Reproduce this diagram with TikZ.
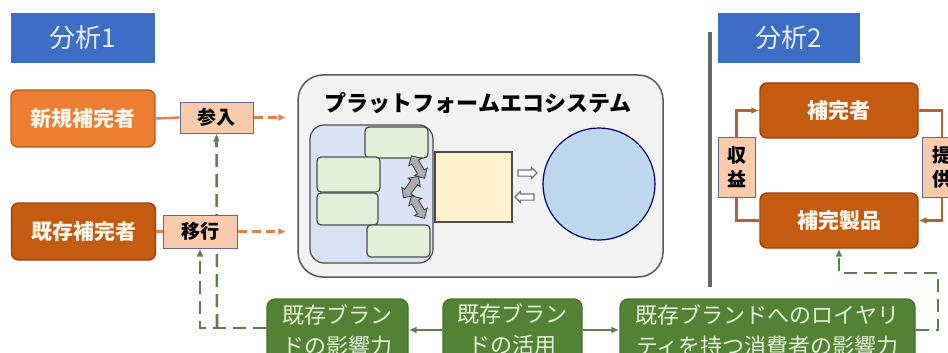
\documentclass[tikz,border=0pt]{standalone}
\usepackage{fontspec}
\newfontfamily\jp{Noto Sans CJK JP}
\usetikzlibrary{arrows.meta,shapes.arrows,backgrounds}
\definecolor{titleblue}{RGB}{59,110,196}
\definecolor{orangeA}{RGB}{237,125,49}
\definecolor{orangeB}{RGB}{197,90,17}
\definecolor{peach}{RGB}{248,203,173}
\definecolor{gfill}{RGB}{84,130,53}
\definecolor{gtext}{RGB}{226,240,217}
\definecolor{gline}{RGB}{92,128,74}
\definecolor{oline}{RGB}{224,128,80}
\definecolor{bline}{RGB}{176,100,58}
\definecolor{pfgray}{RGB}{242,242,242}
\definecolor{lav}{RGB}{218,227,243}
\definecolor{lgreen}{RGB}{226,240,217}
\definecolor{lyel}{RGB}{255,242,204}
\definecolor{lblue}{RGB}{189,215,238}
\tikzset{
  titlebox/.style={fill=titleblue, text=white!92!blue, minimum width=144pt, minimum height=50pt, inner sep=0pt, font=\jp\fontsize{26}{30}\selectfont},
  obox/.style={rounded corners=7pt, draw=#1!75!black, fill=#1, text=white!93!orange, minimum width=144pt, minimum height=57pt, inner sep=0pt, line width=1.4pt, font=\jp\bfseries\fontsize{21}{24}\selectfont},
  lbl/.style={fill=peach, draw=gray!80!blue, line width=1pt, inner sep=0pt, align=center, font=\jp\bfseries\fontsize{19}{24}\selectfont},
  gbox/.style={rounded corners=8pt, fill=gfill, draw=gfill!85!black, line width=1.2pt, text=gtext, align=center, inner sep=0pt, minimum height=62pt, font=\jp\fontsize{22}{31}\selectfont},
  tip/.style={-{Latex[length=8pt,width=7pt]}},
  odash/.style={oline, line width=2.4pt, dash pattern=on 9pt off 5pt, tip},
  gdash/.style={gline, line width=2.6pt, dash pattern=on 13pt off 7pt},
  garr/.style={gline, line width=2pt, tip},
  bl/.style={bline, line width=2.4pt},
  inbox/.style={draw=black!70, line width=1.2pt},
  smallarrow/.style={single arrow, draw=gray!90!black, fill=white, line width=1.2pt, minimum height=19pt, single arrow head extend=2.5pt, inner sep=2.5pt},
  jag/.style={double arrow, draw=gray!45!black, fill=gray!65, line width=0.8pt, minimum height=26pt, double arrow head extend=3.5pt, inner sep=3.5pt}
}
\begin{document}
\begin{tikzpicture}[x=1pt,y=-1pt]
\useasboundingbox (0,0) rectangle (948,353);
\clip (0,0) rectangle (948,353);
\begin{scope}[on background layer]
\fill[white] (0,0) rectangle (948,353);
\end{scope}

% titles
\node[titlebox] (t1) at (83,38) {分析1};
\node[titlebox, minimum width=142pt] (t2) at (789,38) {分析2};

% left side
\node[obox=orangeA] (n1) at (83,118.5) {新規補完者};
\node[obox=orangeB] (n2) at (83.5,231.5) {既存補完者};
\node[lbl, minimum width=73pt, minimum height=31pt] (s1) at (216.5,117.5) {参入};
\node[lbl, minimum width=74pt, minimum height=33pt] (s2) at (200,231.5) {移行};

% platform ecosystem
\node[draw=black!65, fill=pfgray, line width=1.5pt, rounded corners=25pt, minimum width=365pt, minimum height=202pt, inner sep=0pt] (pf) at (480.5,176) {};
\node[font=\jp\bfseries\fontsize{22}{26}\selectfont] (pft) at (478,103) {プラットフォームエコシステム};
\draw[inbox, fill=lav, rounded corners=14pt] (310,125) rectangle (433,263);
\draw[inbox, fill=lgreen, rounded corners=4pt] (365,127) rectangle (428,158);
\draw[inbox, fill=lgreen, rounded corners=4pt] (317,157) rectangle (380,192);
\draw[inbox, fill=lgreen, rounded corners=4pt] (317,193) rectangle (378,225);
\draw[inbox, fill=lgreen, rounded corners=4pt] (367,225) rectangle (430,257);
\node[jag, rotate=120] (ja) at (418,167) {};
\node[jag, rotate=55] (jb) at (411,187) {};
\node[jag, rotate=120] (jc) at (418,207) {};
\draw[inbox, fill=lyel] (435,152) rectangle (512,222);
\node[smallarrow] (ar) at (526,173) {};
\node[smallarrow, shape border rotate=180] (al) at (526,197) {};
\draw[draw=black!60!blue, fill=lblue, line width=1.2pt] (599,184) circle (56);

% separator
\draw[line width=3.5pt, black!60] (710,32) -- (710,287);

% right side
\node[obox=orangeB, minimum width=158pt, minimum height=55pt] (c1) at (839,110.5) {補完者};
\node[obox=orangeB, minimum width=158pt, minimum height=55pt] (c2) at (839,220.5) {補完製品};
\node[lbl, minimum width=37pt, minimum height=60pt] (r1) at (736.5,167) {収\\益};
\node[lbl, minimum width=40pt, minimum height=60pt] (r2) at (942,167) {提\\供};

% bottom green boxes
\node[gbox, minimum width=141pt] (g1) at (337.5,330) {既存ブラン\\ドの影響力};
\node[gbox, minimum width=139pt] (g2) at (512.5,330) {既存ブラン\\ドの活用};
\node[gbox, minimum width=295pt] (g3) at (767.5,330) {既存ブランドへのロイヤリ\\ティを持つ消費者の影響力};

% connectors
\draw[oline, line width=2.4pt] (n1.east) -- (s1.west);
\draw[oline, line width=2.4pt] (n2.east) -- (s2.west);
\coordinate (e1) at ([xshift=-11pt]pf.west |- s1.east);
\coordinate (e2) at ([xshift=-11pt]pf.west |- s2.east);
\draw[odash] (s1.east) -- (e1);
\draw[odash] (s2.east) -- (e2);

\begin{scope}[on background layer]
\coordinate (j1) at (217,327);
\draw[gdash, tip] (j1) -- (s1.south);
\end{scope}
\draw[gdash, tip] ([yshift=2pt]g1.west) -| (s2.south);

\draw[garr] (g2.west) -- (g1.east);
\draw[garr] (g2.east) -- (g3.west);

\coordinate (k1) at (938,330);
\coordinate (k2) at (938,273);
\draw[gdash, tip] (g3.east) -- (k1) -- (k2) -| (c2.south);

\draw[bl, tip] (r1.north) |- (c1.west);
\draw[bl] (c2.west) -| (r1.south);
\draw[bl] (c1.east) -| (r2.north);
\draw[bl, tip] (r2.south) |- (c2.east);
\end{tikzpicture}
\end{document}
